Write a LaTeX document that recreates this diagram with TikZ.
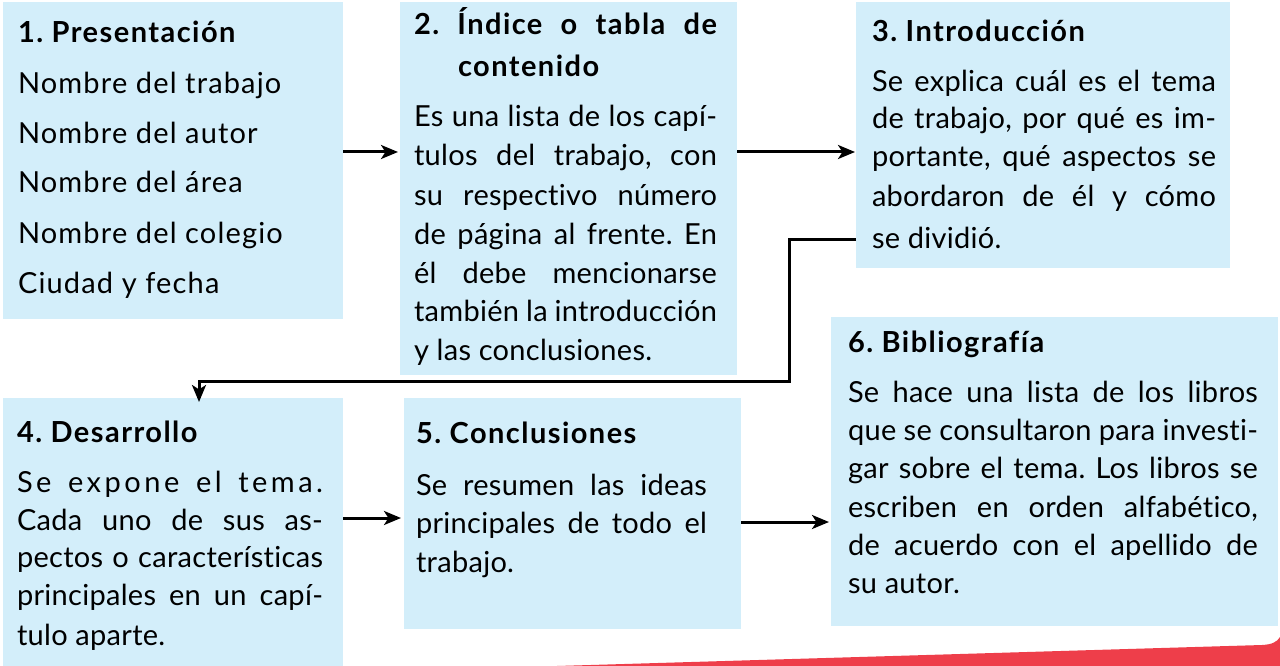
\documentclass[tikz,border=0pt]{standalone}
\usepackage{fontspec}
\setmainfont{Lato}[Ligatures=NoCommon]
\usetikzlibrary{arrows.meta}
\frenchspacing
\definecolor{boxblue}{HTML}{D3EEFA}
\definecolor{redband}{HTML}{EE3E4A}
\newcommand{\jl}[5]{\node[txt,anchor=base west] (#1) at (#2,#3) {\makebox[#4pt][s]{#5}};}
\newcommand{\lt}[4]{\node[txt,anchor=base west] (#1) at (#2,#3) {#4};}
\newcommand{\hd}[4]{\node[head,anchor=base west] (#1) at (#2,#3) {#4};}
\begin{document}
\begin{tikzpicture}[x=1pt,y=-1pt,
  box/.style={fill=boxblue,draw=none,inner sep=0pt,outer sep=0pt,anchor=north west},
  txt/.style={inner sep=0pt,outer sep=0pt,font=\fontsize{29}{34}\selectfont\addfontfeature{LetterSpace=1}},
  wide/.style={inner sep=0pt,outer sep=0pt,font=\fontsize{29}{34}\selectfont\addfontfeature{LetterSpace=4}},
  head/.style={inner sep=0pt,outer sep=0pt,font=\fontsize{29}{34}\selectfont\bfseries\addfontfeature{LetterSpace=5}},
  conn/.style={line width=3pt,-{Stealth[length=17pt,width=14pt,inset=4.5pt]}},
  link/.style={line width=3pt}]
\useasboundingbox (0,0) rectangle (1280,666);
% red band
\fill[redband] (557,666) -- (1262,645) .. controls (1272,644.5) and (1277,642) .. (1280,637) -- (1280,666) -- cycle;
% boxes
\node[box,minimum width=340pt,minimum height=317pt] (b1) at (3,2) {};
\node[box,minimum width=337pt,minimum height=373pt] (b2) at (400,2) {};
\node[box,minimum width=374pt,minimum height=266pt] (b3) at (856,2) {};
\node[box,minimum width=340pt,minimum height=268pt] (b4) at (3,398) {};
\node[box,minimum width=337pt,minimum height=231pt] (b5) at (404,398) {};
\node[box,minimum width=447pt,minimum height=309pt] (b6) at (831,317) {};
% box 1
\hd{h1}{18}{43}{1. Presentación}
\node[wide,anchor=base west] (t11) at (18,94) {Nombre del trabajo};
\node[wide,anchor=base west] (t12) at (18,143) {Nombre del autor};
\node[wide,anchor=base west] (t13) at (18,193) {Nombre del área};
\node[wide,anchor=base west] (t14) at (18,243) {Nombre del colegio};
\node[wide,anchor=base west] (t15) at (18,293) {Ciudad y fecha};
% box 2
\node[head,anchor=base west] (h2) at (414,35) {\makebox[303pt][s]{2. Índice o tabla de}};
\hd{h2b}{458}{77}{contenido}
\jl{t21}{414}{127}{303}{Es una lista de los capí-}
\jl{t22}{414}{166}{303}{tulos del trabajo, con}
\jl{t23}{414}{205}{303}{su respectivo número}
\jl{t24}{414}{244}{303}{de página al frente. En}
\jl{t25}{414}{283}{303}{él debe mencionarse}
\jl{t26}{414}{321}{303}{también la introducción}
\lt{t27}{414}{360}{y las conclusiones.}
% box 3
\hd{h3}{872}{42}{3. Introducción}
\jl{t31}{872}{92}{344}{Se explica cuál es el tema}
\jl{t32}{872}{129}{344}{de trabajo, por qué es im-}
\jl{t33}{872}{167}{344}{portante, qué aspectos se}
\jl{t34}{872}{206}{344}{abordaron de él y cómo}
\lt{t35}{872}{248}{se dividió.}
% box 4
\hd{h4}{17}{442}{4. Desarrollo}
\node[txt,anchor=base west,font=\fontsize{29}{34}\selectfont\addfontfeature{LetterSpace=12}] (t41) at (17,492) {\makebox[306pt][s]{Se expone el tema.}};
\jl{t42}{17}{530}{306}{Cada uno de sus as-}
\jl{t43}{17}{567}{306}{pectos o características}
\jl{t44}{17}{605}{306}{principales en un capí-}
\lt{t45}{17}{645}{tulo aparte.}
% box 5
\hd{h5}{416}{443}{5. Conclusiones}
\jl{t51}{416}{495}{291}{Se resumen las ideas}
\jl{t52}{416}{533}{291}{principales de todo el}
\lt{t53}{416}{572}{trabajo.}
% box 6
\hd{h6}{848}{352}{6. Bibliografía}
\jl{t61}{848}{402}{410}{Se hace una lista de los libros}
\jl{t62}{848}{440}{410}{que se consultaron para investi-}
\jl{t63}{848}{478}{410}{gar sobre el tema. Los libros se}
\jl{t64}{848}{517}{410}{escriben en orden alfabético,}
\jl{t65}{848}{555}{410}{de acuerdo con el apellido de}
\lt{t66}{848}{593}{su autor.}
% connectors
\coordinate (k1) at (789,381);
\draw[conn,shorten >=2pt] ([yshift=8.5pt]b1.east) -- ([yshift=8.5pt]b1.east -| b2.west);
\draw[conn,shorten >=1pt] ([yshift=36.5pt]b2.east) -- ([yshift=36.5pt]b2.east -| b3.west);
\draw[conn] ([yshift=-104pt]b3.west) -| (k1) -| ([xshift=26pt,yshift=-4pt]b4.north);
\draw[conn,shorten >=3pt] ([yshift=14pt]b4.east) -- ([yshift=14pt]b4.east -| b5.west);
\draw[conn,shorten >=2pt] ([yshift=-8.5pt]b5.east) -- ([yshift=-8.5pt]b5.east -| b6.west);
\end{tikzpicture}
\end{document}
